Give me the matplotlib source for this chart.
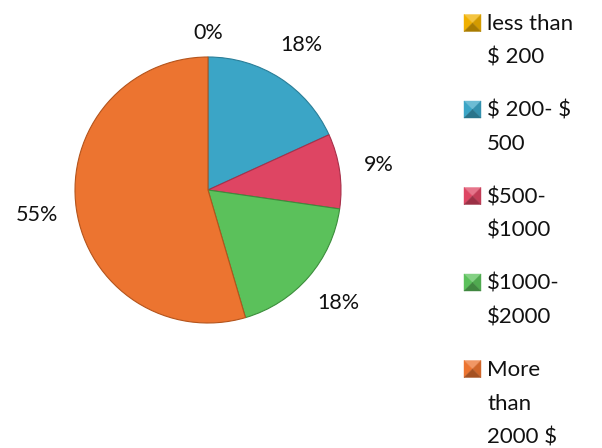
import numpy as np
import matplotlib.pyplot as plt
from matplotlib.patches import Polygon
from matplotlib.colors import to_rgb

# price ranges and counts (percent labels 0/18/9/18/55)
labels = ["less than\n\\$ 200", "\\$ 200- \\$\n500", "\\$500-\n\\$1000", "\\$1000-\n\\$2000", "More\nthan\n2000 \\$"]
counts = [0, 2, 1, 2, 6]
colors = ["#F0B000", "#3BA5C6", "#DE4563", "#5BC15B", "#EC7430"]
edges = ["#B07E00", "#2A7E98", "#A8304A", "#3C8E3C", "#B4541C"]

plt.rcParams['font.family'] = ['Lato', 'DejaVu Sans']


def shade(c, f):
    rgb = np.array(to_rgb(c))
    if f > 0:
        return tuple(rgb + (1 - rgb) * f)
    return tuple(rgb * (1 + f))


fig = plt.figure(figsize=(6.02, 4.48), dpi=100)
W, H = 602, 448
cx, cy, r = 208, 190, 133
ax = fig.add_axes([(cx - r) / W, (H - cy - r) / H, 2 * r / W, 2 * r / H])

wedges, texts, autotexts = ax.pie(counts, colors=colors, startangle=90, counterclock=False,
                                  autopct=lambda p: "%d%%" % round(p), pctdistance=1.3,
                                  wedgeprops=dict(linewidth=0.8), textprops=dict(fontsize=15.5))
for w, ec in zip(wedges, edges):
    w.set_edgecolor(ec)
ax.set_xlim(-1, 1)
ax.set_ylim(-1, 1)
ax.set_aspect('equal')
for t in autotexts:
    t.set_color("#111111")
# the empty slice label sits a little closer in
autotexts[0].set_position((0, 1.18))

# legend drawn by hand: bevelled square at the first line, wrapped text below
y = 23
line_h = 33.5
step = 53
for lab, c in zip(labels, colors):
    x0, x1 = 464 / W, 481 / W
    yt, yb = 1 - (y - 8.5) / H, 1 - (y + 8.5) / H
    xm, ym = (x0 + x1) / 2, (yt + yb) / 2
    tris = [([[x0, yt], [x1, yt], [xm, ym]], 0.25),
            ([[x0, yt], [x0, yb], [xm, ym]], 0.0),
            ([[x1, yt], [x1, yb], [xm, ym]], -0.12),
            ([[x0, yb], [x1, yb], [xm, ym]], -0.3)]
    for pts, f in tris:
        fig.patches.append(Polygon(pts, closed=True, facecolor=shade(c, f), edgecolor=shade(c, f),
                                   linewidth=0.3, transform=fig.transFigure))
    lines = lab.split("\n")
    for i, ln in enumerate(lines):
        fig.text(487 / W, 1 - (y + 1 + i * line_h) / H, ln, fontsize=16, va='center', ha='left',
                 color="#111111")
    y += (len(lines) - 1) * line_h + step

fig.savefig("out.png", dpi=100)
